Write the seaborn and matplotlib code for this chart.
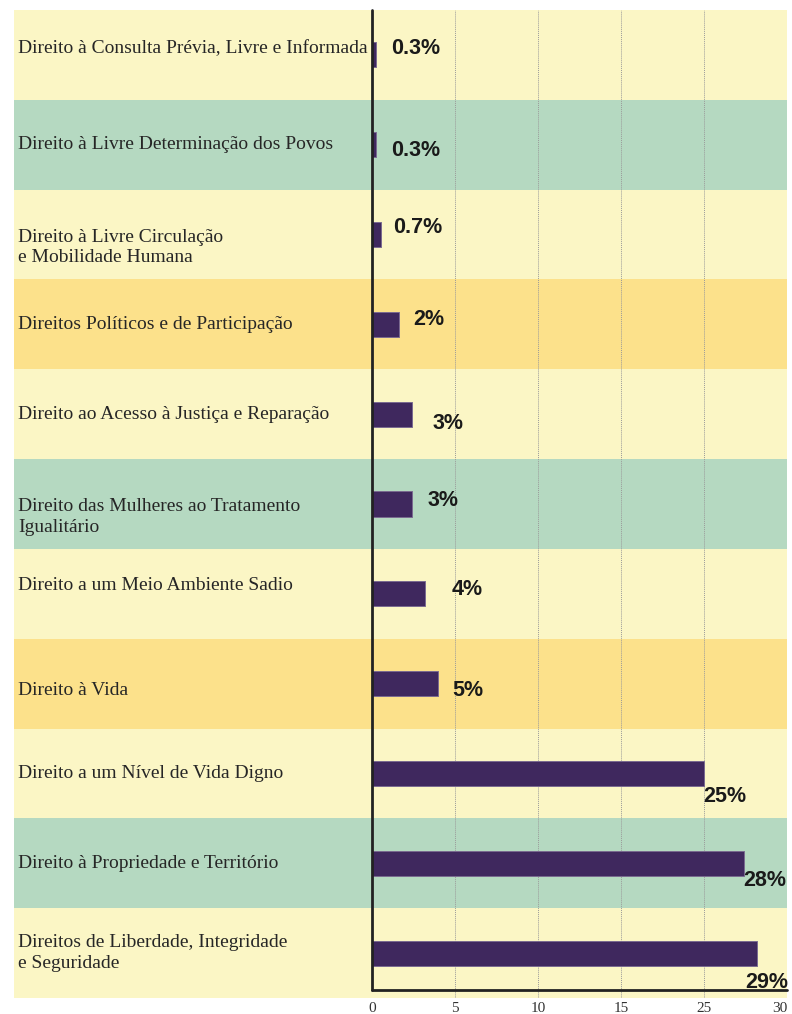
import matplotlib
matplotlib.use('Agg')
import matplotlib.pyplot as plt
import seaborn as sns
import pandas as pd

# Data
categories = [
    'Direito à Consulta Prévia, Livre e Informada',
    'Direito à Livre Determinação dos Povos',
    'Direito à Livre Circulação\ne Mobilidade Humana',
    'Direitos Políticos e de Participação',
    'Direito ao Acesso à Justiça e Reparação',
    'Direito das Mulheres ao Tratamento\nIgualitário',
    'Direito a um Meio Ambiente Sadio',
    'Direito à Vida',
    'Direito a um Nível de Vida Digno',
    'Direito à Propriedade e Território',
    'Direitos de Liberdade, Integridade\ne Seguridade',
]
values = [0.3, 0.3, 0.7, 2, 3, 3, 4, 5, 25, 28, 29]
value_labels = ['0.3%', '0.3%', '0.7%', '2%', '3%', '3%', '4%', '5%', '25%', '28%', '29%']
tick_labels = ['0', '5', '10', '15', '25', '30']

# Row band colours
YELLOW, GREEN, GOLD = '#FBF6C5', '#B5D9C1', '#FCE18B'
band_colors = [YELLOW, GREEN, YELLOW, GOLD, YELLOW, GREEN, YELLOW, GOLD, YELLOW, GREEN, YELLOW]
BAR = '#3F285E'

# hand placement of the texts in the original (pixels: right, down)
cat_dy = [-6, 0, 13, 0, 0, 13, -8, 7, 0, 0, 0]
val_dx = [15, 15, 12, 15, 21, 16, 27, 14, -1, -1, -12]
val_dy = [-6, 6, -7, -5, 9, -4, -4, 7, 23, 17, 29]

sns.set_theme(style='white')

W, H = 792, 1014
fig = plt.figure(figsize=(W / 100, H / 100), dpi=100)
fig.patch.set_facecolor('white')
ax = fig.add_axes([14 / W, 1 - 998 / H, (787 - 14) / W, (998 - 10) / H])

df = pd.DataFrame({'categoria': categories, 'valor': values})
sns.barplot(data=df, x='valor', y='categoria', orient='h', color=BAR,
            saturation=1, width=0.28, ax=ax, zorder=3,
            edgecolor='#7a6a90', linewidth=0.7)

# ticks are evenly spaced although the labels skip 20; "25" sits at 25
n_steps = len(tick_labels) - 1
step = 25 / 4
tick_pos = [i * step for i in range(n_steps + 1)]
x_max = tick_pos[-1]
px_per_unit = 415 / x_max
x_left = -(372 - 14) / px_per_unit
ax.set_xlim(x_left, x_max)
ax.set_ylim(len(categories) - 0.5, -0.5)
ax.set_facecolor('none')

for i, c in enumerate(band_colors):
    ax.axhspan(i - 0.5, i + 0.5, color=c, lw=0, zorder=0)

for t in tick_pos[1:-1]:
    ax.axvline(t, color='#9a9a9a', ls=(0, (1, 1)), lw=0.7, zorder=1)

y_axis = len(categories) - 0.5 - 8 / 89.8
ax.plot([0, 0], [-0.5, y_axis], color='#222222', lw=2, zorder=4, clip_on=False)
ax.plot([0, x_max], [y_axis, y_axis], color='#222222', lw=2, zorder=4, clip_on=False)

for s in ax.spines.values():
    s.set_visible(False)
ax.set_xticks(tick_pos, tick_labels)
for lab in ax.get_xticklabels():
    lab.set_fontfamily('Liberation Serif')
    lab.set_fontsize(11)
    lab.set_color('#333333')
ax.get_xticklabels()[-1].set_horizontalalignment('right')
ax.tick_params(axis='x', length=0, pad=3)
ax.set_yticks([])
ax.set_xlabel('')
ax.set_ylabel('')

# category labels inside the bands
for i, cat in enumerate(categories):
    ax.annotate(cat, (x_left, i), xytext=(4 * 0.72, -cat_dy[i] * 0.72),
                textcoords='offset points', ha='left', va='center',
                fontsize=14, family='Liberation Serif', color='#262626',
                linespacing=1.3)

# value labels: beside short bars, under the end of long bars
for i, (v, lab) in enumerate(zip(values, value_labels)):
    ax.annotate(lab, (v, i), xytext=(val_dx[i] * 0.72, -val_dy[i] * 0.72),
                textcoords='offset points', ha='left', va='center',
                fontsize=15.5, fontweight='bold', family='Liberation Sans',
                color='#1a1a1a', zorder=5)

fig.savefig('out.png', dpi=100)
